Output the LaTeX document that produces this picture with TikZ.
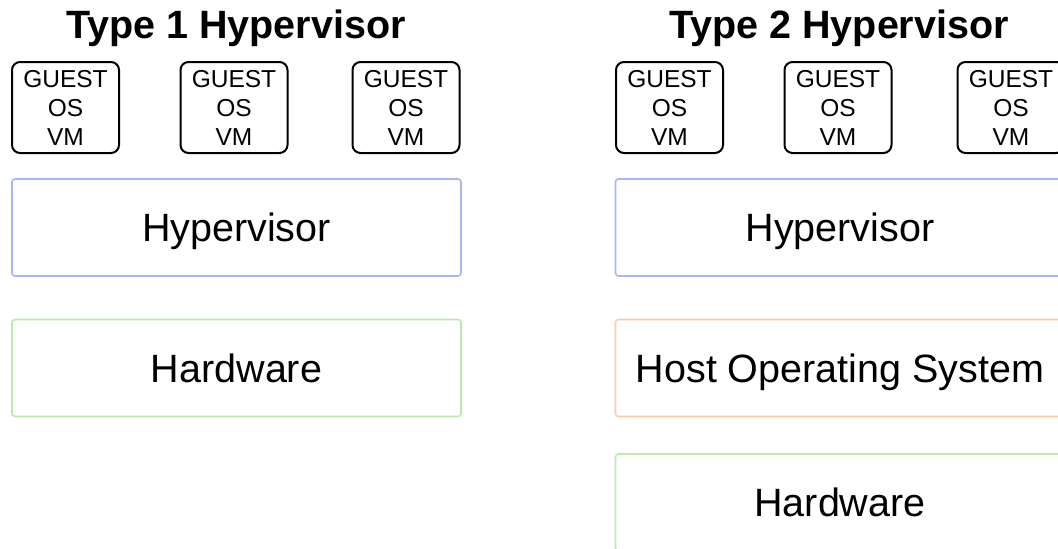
\documentclass[tikz,border=0pt]{standalone}
\usepackage{fontspec}
\setmainfont{Liberation Sans}
\definecolor{hypblue}{RGB}{168,180,245}
\definecolor{hostorange}{RGB}{255,200,170}
\definecolor{hwgreen}{RGB}{185,235,170}
\begin{document}
\begin{tikzpicture}[x=1pt,y=-1pt,
  guest/.style={draw=black, line width=2pt, rounded corners=8pt, minimum width=107pt, minimum height=91pt, align=center, inner sep=0pt, font=\fontsize{24.5}{29}\selectfont},
  layer/.style={line width=1.6pt, rounded corners=3pt, minimum width=449pt, minimum height=97pt, inner sep=0pt, text depth=0pt, font=\fontsize{39.5}{44}\selectfont},
  title/.style={font=\fontsize{39.5}{44}\selectfont\bfseries, inner sep=0pt, text depth=0pt}]
\useasboundingbox (0,0) rectangle (1058,549);
\clip (0,0) rectangle (1058,549);
\node[title] (t1) at (236,24) {Type 1 Hypervisor};
\node[title] (t2) at (839,24) {Type 2 Hypervisor};
\node[guest] (g1) at (65.5,107.5) {GUEST\\OS\\VM};
\node[guest] (g2) at (234,107.5) {GUEST\\OS\\VM};
\node[guest] (g3) at (406,107.5) {GUEST\\OS\\VM};
\node[guest] (g4) at (669.5,107.5) {GUEST\\OS\\VM};
\node[guest] (g5) at (838,107.5) {GUEST\\OS\\VM};
\node[guest] (g6) at (1011,107.5) {GUEST\\OS\\VM};
\node[layer, draw=hypblue] (hyp1) at (236.5,227.5) {Hypervisor};
\node[layer, draw=hwgreen] (hw1) at (236.5,368) {Hardware};
\node[layer, draw=hypblue] (hyp2) at (840,227.5) {Hypervisor};
\node[layer, draw=hostorange] (host2) at (840,368) {Host Operating System};
\node[layer, draw=hwgreen] (hw2) at (840,502.5) {Hardware};
\end{tikzpicture}
\end{document}
